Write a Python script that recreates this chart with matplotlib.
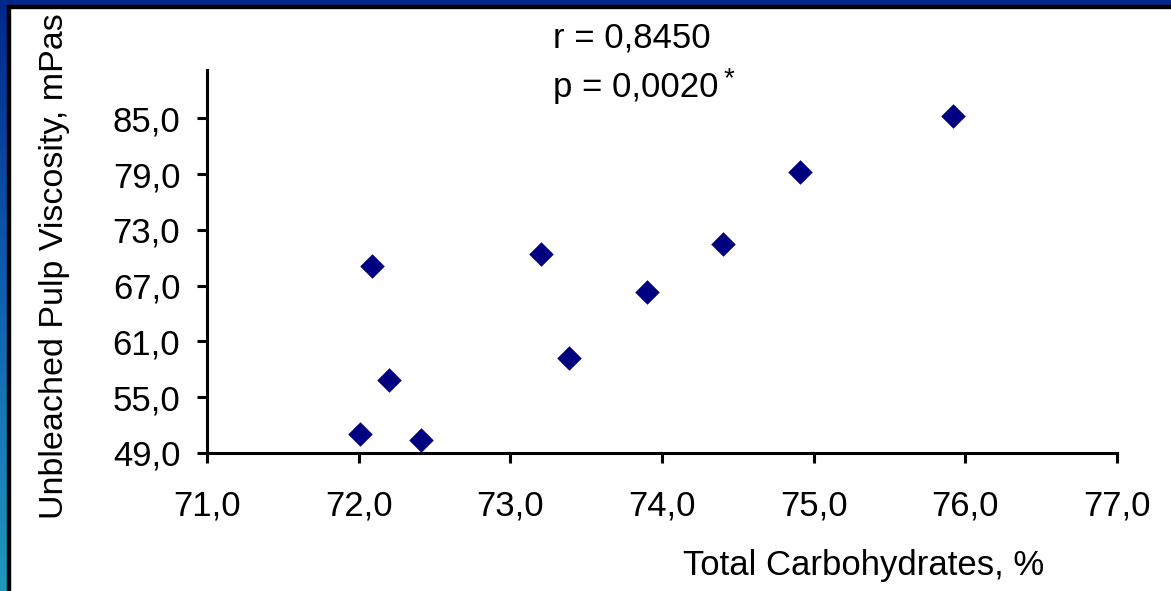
"""Scatter: unbleached pulp viscosity vs total carbohydrates."""

import matplotlib

matplotlib.use("Agg")
import matplotlib.pyplot as plt
import numpy as np
from matplotlib.patches import Rectangle
from matplotlib.ticker import FuncFormatter

plt.rcParams["font.family"] = ["Liberation Sans", "DejaVu Sans"]

# valeurs
carbohydrates = [75.92, 74.91, 74.40, 73.20, 72.09, 73.90, 73.39, 72.20, 72.01, 72.41]
viscosity = [85.3, 79.2, 71.5, 70.4, 69.1, 66.3, 59.2, 56.8, 51.0, 50.4]
x_ticks = [71, 72, 73, 74, 75, 76, 77]
y_ticks = [49, 55, 61, 67, 73, 79, 85]
r_text = "r = 0,8450"
p_text = "p = 0,0020"

W, H = 1171, 591
fig = plt.figure(figsize=(W / 100, H / 100), dpi=100)
fig.patch.set_facecolor("white")


def px(x, y):
    """pixels (haut-gauche) -> coordonnées figure"""
    return x / W, 1 - y / H


# cadre bleu / noir
grad = fig.add_axes([0, 0, 7 / W, 1])
grad.imshow(
    np.linspace(0, 1, 256).reshape(-1, 1),
    aspect="auto",
    cmap=matplotlib.colors.LinearSegmentedColormap.from_list("bord", ["#00288c", "#1060b0", "#2098bc"]),
    extent=[0, 1, 1, 0],
)
grad.set_axis_off()
fig.patches.append(Rectangle(px(0, 5), 1, 5 / H, transform=fig.transFigure, color="#00288c", zorder=5))
fig.patches.append(Rectangle(px(7, 8), 1, 3 / H, transform=fig.transFigure, color="black", zorder=5))
fig.patches.append(Rectangle(px(7, H), 3 / W, 1 - 5 / H, transform=fig.transFigure, color="black", zorder=5))

x0, y0 = px(207, 453)
x1, y1 = px(1117, 70)
ax = fig.add_axes([x0, y0, x1 - x0, y1 - y0])
ax.scatter(carbohydrates, viscosity, marker="D", s=12.5**2, color="#000080", linewidths=0, zorder=3)

ax.set_xlim(71, 77)
ax.set_ylim(49, 90.2)
ax.set_xticks(x_ticks)
ax.set_yticks(y_ticks)
fmt = FuncFormatter(lambda v, _: f"{v:.1f}".replace(".", ","))
ax.xaxis.set_major_formatter(fmt)
ax.yaxis.set_major_formatter(fmt)
for side in ("top", "right"):
    ax.spines[side].set_visible(False)
for side in ("left", "bottom"):
    ax.spines[side].set_linewidth(2.2)
ax.tick_params(axis="both", direction="out", length=7.2, width=2.2, labelsize=25)
ax.tick_params(axis="x", pad=19)
ax.tick_params(axis="y", pad=12)
ax.patch.set_alpha(0)

fig.text(*px(55, 519), "Unbleached Pulp Viscosity, mPas", rotation=90,
         ha="center", va="bottom", fontsize=24.5)
fig.text(*px(864, 565), "Total Carbohydrates, %", ha="center", va="center", fontsize=25)
fig.text(*px(553, 47), r_text, ha="left", va="baseline", fontsize=25)
fig.text(*px(553, 97), p_text, ha="left", va="baseline", fontsize=25)
fig.text(*px(724, 86), "*", ha="left", va="baseline", fontsize=20)

fig.savefig("out.png", dpi=100)
